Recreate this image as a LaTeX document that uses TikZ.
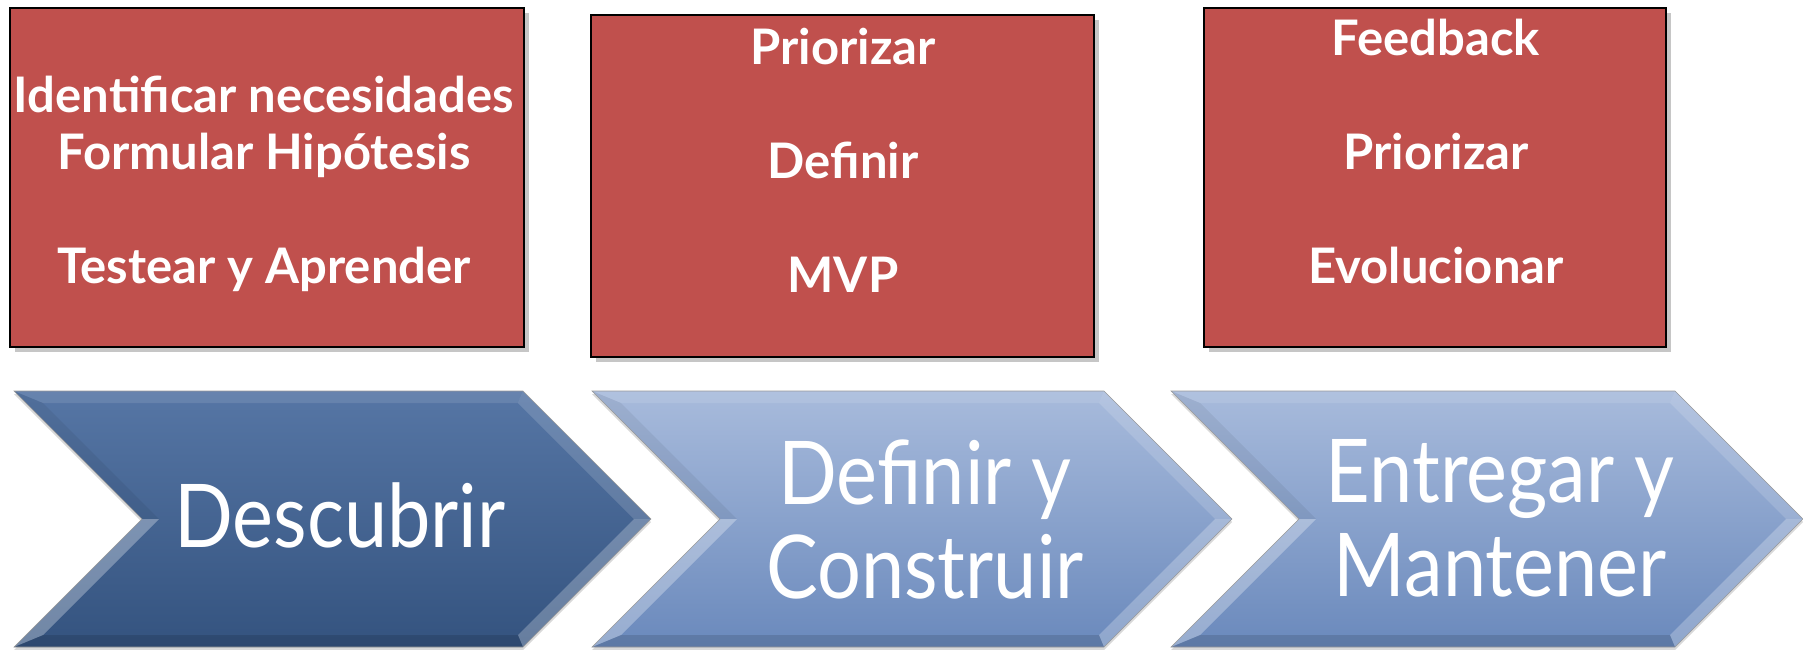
\documentclass[tikz,border=0pt]{standalone}
\usepackage{fontspec}
\setmainfont{Lato}
\newfontfamily\gill{Lato}[FakeStretch=0.88]
\usepackage{tikz}
\usetikzlibrary{arrows,positioning,calc,shadows}
\definecolor{rojo}{HTML}{C0504D}
\definecolor{azulA}{HTML}{5676A5}
\definecolor{azulB}{HTML}{34537F}
\definecolor{celesteA}{HTML}{A8BBDC}
\definecolor{celesteB}{HTML}{6A89BC}
\tikzset{
  caja/.style={draw=black, line width=1pt, fill=rojo,
    drop shadow={shadow xshift=2.5pt, shadow yshift=-2.5pt, opacity=.45}},
  lista/.style={text=white, align=center, font=\bfseries\fontsize{24.5}{28.5}\selectfont},
  fase/.style={text=white, align=center, font=\gill\fontsize{44}{47}\selectfont},
  oscuro/.style={top color=azulA, bottom color=azulB},
  claro/.style={top color=celesteA, bottom color=celesteB},
}
\newcommand{\flecha}[3]{%
  \shade[#3, drop shadow={shadow xshift=0pt, shadow yshift=-1.5pt, opacity=.3}]
    (#1,391) -- (#2,391) -- ++(128,128) -- ++(-128,128) -- (#1,647) -- ++(128,-128) -- cycle;
  \fill[white, opacity=.10] (#1,391) -- (#2,391) -- (#2-5,403) -- (#1+29,403) -- cycle;
  \fill[white, opacity=.15] (#2,391) -- (#2+128,519) -- (#2+111,519) -- (#2-5,403) -- cycle;
  \fill[white, opacity=.25] (#2+128,519) -- (#2,647) -- (#2-5,635) -- (#2+111,519) -- cycle;
  \fill[black, opacity=.12] (#2,647) -- (#1,647) -- (#1+29,635) -- (#2-5,635) -- cycle;
  \fill[white, opacity=.30] (#1,647) -- (#1+128,519) -- (#1+145,519) -- (#1+29,635) -- cycle;
  \fill[black, opacity=.06] (#1+128,519) -- (#1,391) -- (#1+29,403) -- (#1+145,519) -- cycle;
  \draw[black!40, line width=.3pt]
    (#1,391) -- (#2,391) -- ++(128,128) -- ++(-128,128) -- (#1,647) -- ++(128,-128) -- cycle;
}

\begin{document}
\begin{tikzpicture}[x=0.5pt, y=-0.5pt]
\useasboundingbox (0,0) rectangle (1803,649);

\draw[caja] (10,8) rectangle (524,347);
\draw[caja] (591,15) rectangle (1094,357);
\draw[caja] (1204,8) rectangle (1666,347);
\node[lista] (t1) at (264,184) {Identificar necesidades\\Formular Hipótesis\\[28.5pt]Testear y Aprender};
\node[lista] (t2) at (843,160) {Priorizar\\[28.5pt]Definir\\[28.5pt]MVP};
\node[lista] (t3) at (1436,151) {Feedback\\[28.5pt]Priorizar\\[28.5pt]Evolucionar};

\flecha{14}{523}{oscuro}
\flecha{592}{1104}{claro}
\flecha{1171}{1675}{claro}
\node[fase] (des) at (340,515) {Descubrir};
\node[fase] (def) at (925,519) {Definir y\\Construir};
\node[fase] (ent) at (1500,518) {Entregar y\\Mantener};
\end{tikzpicture}
\end{document}
